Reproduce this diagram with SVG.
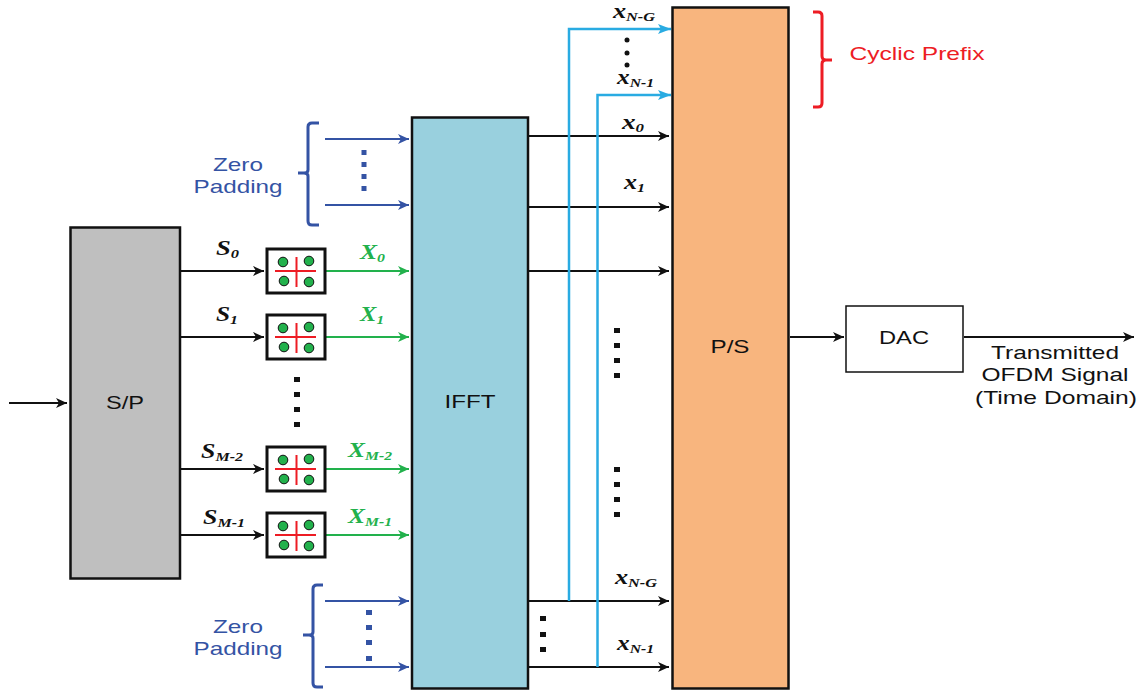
<svg xmlns="http://www.w3.org/2000/svg" width="1140" height="690" viewBox="0 0 1140 690">
<style>
.box{stroke:#111;stroke-width:2.500}
.sans{font-family:"Liberation Sans",Arial,sans-serif;font-size:19px;text-anchor:middle;fill:#111}
.blue{fill:#3453a4}
.red{fill:#ed1c24}
.lab{font-family:"Liberation Serif","Times New Roman",serif;font-weight:bold;font-style:italic;font-size:21px;fill:#111}
.lab tspan{font-size:13px}
.g{fill:#22b14c}
.k{fill:none;stroke:#111;stroke-width:2}
.gl{fill:none;stroke:#22b14c;stroke-width:2}
.bl{fill:none;stroke:#3453a4;stroke-width:2}
.cy{fill:none;stroke:#29abe2;stroke-width:2.500}
.q{fill:#fff;stroke:#111;stroke-width:3}
.cr{stroke:#ed1c24;stroke-width:2;fill:none}
.dot{fill:#22b14c;stroke:#111;stroke-width:1}
</style>
<defs>
<marker id="ak" markerUnits="userSpaceOnUse" markerWidth="12" markerHeight="10" refX="11" refY="5" orient="auto"><path d="M0 0L11 5L0 10L3 5Z" fill="#111"/></marker>
<marker id="ag" markerUnits="userSpaceOnUse" markerWidth="12" markerHeight="10" refX="11" refY="5" orient="auto"><path d="M0 0L11 5L0 10L3 5Z" fill="#22b14c"/></marker>
<marker id="ab" markerUnits="userSpaceOnUse" markerWidth="12" markerHeight="10" refX="11" refY="5" orient="auto"><path d="M0 0L11 5L0 10L3 5Z" fill="#3453a4"/></marker>
<marker id="ac" markerUnits="userSpaceOnUse" markerWidth="14" markerHeight="10" refX="13" refY="5" orient="auto"><path d="M0 0L13 5L0 10L3 5Z" fill="#29abe2"/></marker>
<g id="qam">
<rect class="q" x="0" y="0" width="58" height="44"/>
<path class="cr" d="M8 22H49M29.500 8V38"/>
<circle class="dot" cx="16" cy="13" r="4.800"/><circle class="dot" cx="42" cy="12" r="4.800"/>
<circle class="dot" cx="17" cy="32" r="4.800"/><circle class="dot" cx="42" cy="33" r="4.800"/>
</g>
</defs>

<g id="connectors">
<path class="k" marker-end="url(#ak)" d="M9 403H67"/>
<path class="k" marker-end="url(#ak)" d="M181 271H264"/>
<path class="k" marker-end="url(#ak)" d="M181 337H264"/>
<path class="k" marker-end="url(#ak)" d="M181 469H264"/>
<path class="k" marker-end="url(#ak)" d="M181 535H264"/>
<path class="gl" marker-end="url(#ag)" d="M326 271H409"/>
<path class="gl" marker-end="url(#ag)" d="M326 337H409"/>
<path class="gl" marker-end="url(#ag)" d="M326 469H409"/>
<path class="gl" marker-end="url(#ag)" d="M326 535H409"/>
<path class="bl" marker-end="url(#ab)" d="M325 139H409"/>
<path class="bl" marker-end="url(#ab)" d="M325 205H409"/>
<path class="bl" marker-end="url(#ab)" d="M325 601H409"/>
<path class="bl" marker-end="url(#ab)" d="M325 667H409"/>
<path class="k" marker-end="url(#ak)" d="M529 136H669"/>
<path class="k" marker-end="url(#ak)" d="M529 207H669"/>
<path class="k" marker-end="url(#ak)" d="M529 271H669"/>
<path class="k" marker-end="url(#ak)" d="M529 601H669"/>
<path class="k" marker-end="url(#ak)" d="M529 667H669"/>
<path class="cy" marker-end="url(#ac)" d="M569 601V29H671"/>
<path class="cy" marker-end="url(#ac)" d="M597.500 667V95H671"/>
<path class="k" marker-end="url(#ak)" d="M790 337H844"/>
<path class="k" marker-end="url(#ak)" d="M964 337H1134"/>
</g>

<g id="sp"><rect class="box" x="70.500" y="227.500" width="109.500" height="351" fill="#bfbfbf"/><text class="sans" x="125" y="409" textLength="38" lengthAdjust="spacingAndGlyphs">S/P</text></g>
<g id="ifft"><rect class="box" x="412" y="117.500" width="116" height="571" fill="#99d0de"/><text class="sans" x="470" y="408" textLength="51" lengthAdjust="spacingAndGlyphs">IFFT</text></g>
<g id="ps"><rect class="box" x="672.500" y="7.500" width="116" height="681" fill="#f8b57e"/><text class="sans" x="730" y="353" textLength="39" lengthAdjust="spacingAndGlyphs">P/S</text></g>
<g id="dac"><rect x="846" y="306" width="117" height="66" fill="#fff" stroke="#111" stroke-width="1.500"/><text class="sans" x="904" y="344" textLength="50" lengthAdjust="spacingAndGlyphs">DAC</text></g>
<g id="mod0"><use href="#qam" x="267" y="249"/></g>
<g id="mod1"><use href="#qam" x="267" y="315"/></g>
<g id="mod2"><use href="#qam" x="267" y="447"/></g>
<g id="mod3"><use href="#qam" x="267" y="513"/></g>

<g id="labels">
<text class="lab" x="216" y="255" textLength="23" lengthAdjust="spacingAndGlyphs">S<tspan dy="3">0</tspan></text>
<text class="lab" x="216" y="321" textLength="22" lengthAdjust="spacingAndGlyphs">S<tspan dy="3">1</tspan></text>
<text class="lab" x="201" y="458" textLength="42" lengthAdjust="spacingAndGlyphs">S<tspan dy="3">M-2</tspan></text>
<text class="lab" x="203" y="524" textLength="42" lengthAdjust="spacingAndGlyphs">S<tspan dy="3">M-1</tspan></text>
<text class="lab g" x="360" y="259" textLength="25" lengthAdjust="spacingAndGlyphs">X<tspan dy="3">0</tspan></text>
<text class="lab g" x="360" y="321" textLength="24" lengthAdjust="spacingAndGlyphs">X<tspan dy="3">1</tspan></text>
<text class="lab g" x="348" y="457" textLength="44" lengthAdjust="spacingAndGlyphs">X<tspan dy="3">M-2</tspan></text>
<text class="lab g" x="348" y="523" textLength="44" lengthAdjust="spacingAndGlyphs">X<tspan dy="3">M-1</tspan></text>
<text class="lab" x="613" y="18" textLength="42" lengthAdjust="spacingAndGlyphs">x<tspan dy="3">N-G</tspan></text>
<text class="lab" x="617" y="84" textLength="37" lengthAdjust="spacingAndGlyphs">x<tspan dy="3">N-1</tspan></text>
<text class="lab" x="622" y="129" textLength="22" lengthAdjust="spacingAndGlyphs">x<tspan dy="3">0</tspan></text>
<text class="lab" x="624" y="189" textLength="21" lengthAdjust="spacingAndGlyphs">x<tspan dy="3">1</tspan></text>
<text class="lab" x="615" y="584" textLength="42" lengthAdjust="spacingAndGlyphs">x<tspan dy="3">N-G</tspan></text>
<text class="lab" x="617" y="650" textLength="37" lengthAdjust="spacingAndGlyphs">x<tspan dy="3">N-1</tspan></text>
<text class="sans blue" x="238" y="171" textLength="50" lengthAdjust="spacingAndGlyphs">Zero</text>
<text class="sans blue" x="238" y="193" textLength="89" lengthAdjust="spacingAndGlyphs">Padding</text>
<text class="sans blue" x="238" y="633" textLength="50" lengthAdjust="spacingAndGlyphs">Zero</text>
<text class="sans blue" x="238" y="655" textLength="89" lengthAdjust="spacingAndGlyphs">Padding</text>
<text class="sans red" x="917" y="60" textLength="135" lengthAdjust="spacingAndGlyphs">Cyclic Prefix</text>
<text class="sans" x="1055" y="359" textLength="128" lengthAdjust="spacingAndGlyphs">Transmitted</text>
<text class="sans" x="1055" y="381" textLength="147" lengthAdjust="spacingAndGlyphs">OFDM Signal</text>
<text class="sans" x="1056" y="404" textLength="162" lengthAdjust="spacingAndGlyphs">(Time Domain)</text>
</g>

<g id="decor">
<path d="M319 123H312Q308 123 308 127V170Q308 173 304 173H298H304Q308 173 308 176V221Q308 225 312 225H319" fill="none" stroke="#3453a4" stroke-width="3"/>
<path d="M323 585H317Q313 585 313 589V632Q313 635 309 635H303H309Q313 635 313 638V683Q313 687 317 687H323" fill="none" stroke="#3453a4" stroke-width="3"/>
<path d="M813 12H818Q822 12 822 16V56Q822 60 826 60H832H826Q822 60 822 64V103Q822 107 818 107H813" fill="none" stroke="#ed1c24" stroke-width="3"/>
<g class="blue"><rect x="361.500" y="150" width="5" height="5"/><rect x="361.500" y="162" width="5" height="5"/><rect x="361.500" y="174" width="5" height="5"/><rect x="361.500" y="186" width="5" height="5"/>
<rect x="366" y="610" width="6" height="5"/><rect x="366" y="625" width="6" height="5"/><rect x="366" y="640" width="6" height="5"/><rect x="366" y="656" width="6" height="5"/></g>
<g fill="#111">
<rect x="294" y="377" width="6" height="5"/><rect x="294" y="392" width="6" height="5"/><rect x="294" y="407" width="6" height="5"/><rect x="294" y="422" width="6" height="5"/>
<rect x="614" y="328" width="6" height="5"/><rect x="614" y="343" width="6" height="5"/><rect x="614" y="358" width="6" height="5"/><rect x="614" y="373" width="6" height="5"/>
<rect x="614" y="467" width="6" height="5"/><rect x="614" y="482" width="6" height="5"/><rect x="614" y="497" width="6" height="5"/><rect x="614" y="512" width="6" height="5"/>
<rect x="540" y="616" width="6" height="5"/><rect x="540" y="632" width="6" height="5"/><rect x="540" y="647" width="6" height="5"/>
<circle cx="627" cy="40" r="2.500"/><circle cx="627" cy="53" r="2.500"/><circle cx="627" cy="65" r="2.500"/>
</g>
</g>
</svg>
